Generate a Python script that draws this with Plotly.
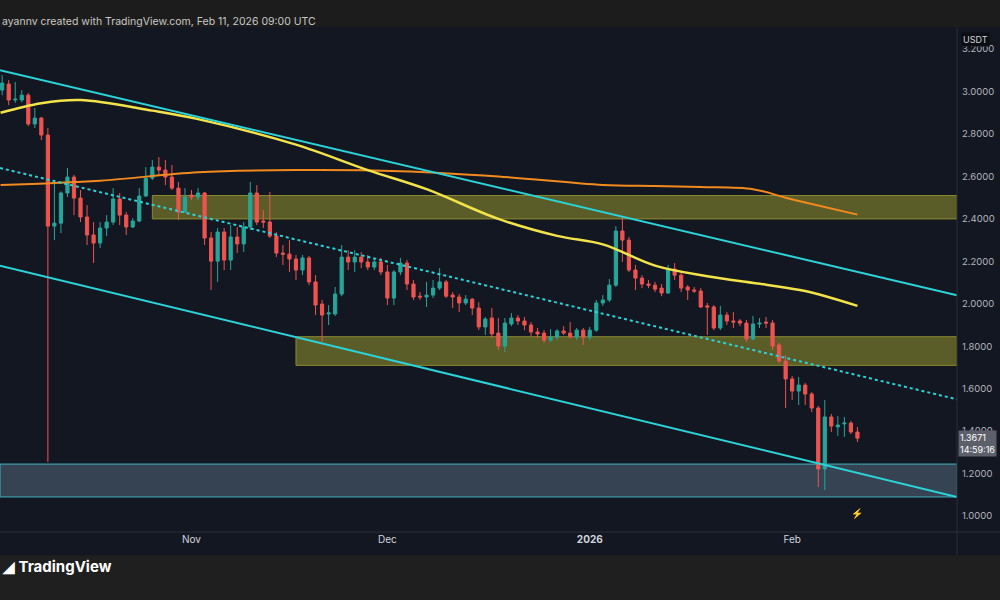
import plotly.graph_objects as go
import pandas as pd

start = pd.Timestamp("2025-10-03")
opens = [3.007,3.035,2.960,2.960,2.983,2.847,2.875,2.795,2.366,2.380,2.522,2.597,2.498,2.409,2.324,2.286,2.357,2.385,2.494,2.418,
 2.362,2.390,2.508,2.592,2.644,2.630,2.597,2.545,2.432,2.512,2.503,2.522,2.310,2.201,2.338,2.206,2.315,2.282,2.362,2.522,
 2.390,2.385,2.319,2.239,2.234,2.211,2.159,2.216,2.103,1.999,1.952,1.952,2.046,2.220,2.197,2.220,2.197,2.173,2.197,2.150,
 2.027,2.150,2.192,2.093,2.036,2.032,2.041,2.074,2.103,2.041,2.032,2.004,2.022,1.980,1.891,1.933,1.862,1.801,1.905,1.933,
 1.919,1.900,1.867,1.862,1.829,1.843,1.872,1.862,1.843,1.876,1.843,1.876,2.004,2.018,2.088,2.343,2.300,2.159,2.121,2.093,
 2.088,2.074,2.051,2.164,2.135,2.079,2.065,2.060,1.990,1.985,1.886,1.947,1.919,1.919,1.909,1.834,1.905,1.914,1.909,1.806,
 1.730,1.646,1.589,1.617,1.575,1.509,1.222,1.467,1.420,1.434,1.438,1.396]
highs = [3.078,3.054,3.045,3.007,2.993,2.922,2.880,2.828,2.583,2.530,2.640,2.607,2.536,2.465,2.385,2.385,2.418,2.545,2.522,2.432,
 2.404,2.545,2.644,2.677,2.691,2.677,2.654,2.574,2.545,2.536,2.545,2.527,2.338,2.357,2.357,2.371,2.362,2.385,2.574,2.559,
 2.442,2.527,2.338,2.277,2.300,2.230,2.230,2.225,2.135,2.018,1.994,2.079,2.277,2.253,2.253,2.244,2.230,2.216,2.216,2.183,
 2.159,2.216,2.206,2.112,2.055,2.103,2.112,2.168,2.112,2.055,2.046,2.041,2.027,2.008,1.938,1.980,1.933,1.933,1.957,1.947,
 1.938,1.914,1.886,1.876,1.881,1.881,1.895,1.914,1.886,1.886,1.891,2.018,2.041,2.117,2.366,2.413,2.315,2.183,2.135,2.112,
 2.103,2.093,2.183,2.192,2.150,2.088,2.079,2.074,2.004,1.994,1.990,1.961,1.961,1.928,1.924,1.943,1.933,1.938,1.924,1.816,
 1.758,1.660,1.655,1.627,1.584,1.518,1.547,1.481,1.471,1.467,1.448,1.420]
lows = [2.983,2.936,2.946,2.950,2.837,2.828,2.771,1.255,2.300,2.333,2.503,2.418,2.385,2.277,2.192,2.263,2.319,2.371,2.371,2.324,
 2.357,2.385,2.503,2.583,2.607,2.559,2.536,2.395,2.428,2.489,2.489,2.277,2.065,2.103,2.159,2.159,2.239,2.244,2.347,2.371,
 2.357,2.310,2.220,2.183,2.150,2.112,2.135,2.088,1.947,1.820,1.900,1.943,2.036,2.159,2.150,2.168,2.159,2.159,2.135,1.994,
 1.994,2.135,2.065,2.018,2.018,1.985,2.027,2.065,2.027,1.980,1.961,1.994,1.947,1.876,1.853,1.839,1.782,1.773,1.895,1.900,
 1.876,1.848,1.839,1.815,1.820,1.829,1.853,1.839,1.829,1.806,1.829,1.867,1.990,2.008,2.079,2.197,2.150,2.065,2.074,2.074,
 2.055,2.036,2.046,2.112,2.055,2.018,2.051,1.980,1.853,1.876,1.876,1.900,1.886,1.895,1.820,1.829,1.886,1.886,1.782,1.721,
 1.509,1.547,1.523,1.523,1.490,1.137,1.123,1.396,1.377,1.373,1.387,1.349]
closes = [3.040,2.960,2.964,2.983,2.847,2.875,2.795,2.366,2.380,2.522,2.597,2.498,2.409,2.324,2.286,2.357,2.385,2.494,2.418,2.362,
 2.390,2.508,2.592,2.644,2.630,2.597,2.545,2.432,2.503,2.503,2.522,2.310,2.201,2.338,2.206,2.315,2.282,2.362,2.522,2.385,
 2.385,2.319,2.239,2.234,2.211,2.159,2.216,2.103,1.994,1.947,1.957,2.046,2.220,2.197,2.220,2.197,2.173,2.197,2.150,2.027,
 2.150,2.192,2.093,2.032,2.032,2.041,2.074,2.103,2.036,2.032,2.004,2.022,1.980,1.891,1.928,1.858,1.801,1.909,1.933,1.919,
 1.900,1.867,1.858,1.829,1.843,1.872,1.862,1.843,1.876,1.843,1.876,2.004,2.018,2.088,2.343,2.300,2.159,2.121,2.093,2.088,
 2.069,2.051,2.164,2.135,2.074,2.065,2.060,1.985,1.985,1.886,1.947,1.919,1.914,1.909,1.834,1.905,1.909,1.909,1.801,1.730,
 1.646,1.589,1.617,1.575,1.509,1.222,1.467,1.424,1.429,1.438,1.396,1.3671]
dates = pd.date_range(start, periods=len(opens), freq="D")

# moving averages (read at sample dates)
ma_yellow_dates = ["2025-10-02 18:00","2025-10-09","2025-10-15","2025-10-26","2025-11-02","2025-11-17","2025-11-28",
                   "2025-12-07","2025-12-18","2025-12-27","2026-01-03","2026-01-11","2026-01-19","2026-01-28","2026-02-03","2026-02-11"]
ma_yellow = [2.90,2.945,2.96,2.91,2.87,2.75,2.63,2.54,2.40,2.32,2.28,2.18,2.13,2.09,2.06,1.99]
ma_orange_dates = ["2025-10-02 18:00","2025-10-18","2025-11-02","2025-11-17","2025-12-03","2025-12-18","2026-01-03",
                   "2026-01-11","2026-01-18","2026-01-26","2026-01-31","2026-02-04","2026-02-11"]
ma_orange = [2.56,2.58,2.62,2.63,2.625,2.60,2.56,2.555,2.55,2.54,2.50,2.47,2.42]

ch_dates = ["2025-10-02 16:00","2026-02-26 06:00"]
ch_upper = [3.10,2.04]
ch_mid = [2.64,1.55]
ch_lower = [2.18,1.09]

zones = [  # start date, bottom, top, kind
    ("2025-10-26", 2.40, 2.51, "y"),
    ("2025-11-17", 1.71, 1.845, "y"),
    ("2025-10-02 16:00", 1.09, 1.245, "g"),
]
zone_end = "2026-02-26 06:00"

tick_dates = ["2025-11-01","2025-12-01","2026-01-01","2026-02-01"]
tick_text = ["Nov","Dec","<b>2026</b>","Feb"]
y_ticks = [1.0,1.2,1.4,1.6,1.8,2.0,2.2,2.4,2.6,2.8,3.0,3.2]

BG = "#131722"
fig = go.Figure()
for d0, lo, hi, k in zones:
    if k == "y":
        fig.add_shape(type="rect", x0=d0, x1=zone_end, y0=lo, y1=hi, xref="x", yref="y",
                      fillcolor="rgba(140,140,45,0.6)", line=dict(color="#8c8a30", width=1), layer="below")
    else:
        fig.add_shape(type="rect", x0=d0, x1=zone_end, y0=lo, y1=hi, xref="x", yref="y",
                      fillcolor="rgba(110,140,160,0.38)", line=dict(color="#3fb0c0", width=1), layer="below")

fig.add_trace(go.Scatter(x=ma_orange_dates, y=ma_orange, mode="lines", line=dict(color="#f28a1e", width=2, shape="spline"), hoverinfo="skip"))
fig.add_trace(go.Scatter(x=ma_yellow_dates, y=ma_yellow, mode="lines", line=dict(color="#f3e34b", width=2.5, shape="spline"), hoverinfo="skip"))
fig.add_trace(go.Scatter(x=ch_dates, y=ch_upper, mode="lines", line=dict(color="#2cd3d8", width=2), hoverinfo="skip"))
fig.add_trace(go.Scatter(x=ch_dates, y=ch_lower, mode="lines", line=dict(color="#2cd3d8", width=2), hoverinfo="skip"))
fig.add_trace(go.Scatter(x=ch_dates, y=ch_mid, mode="lines", line=dict(color="#2cd3d8", width=2, dash="dot"), hoverinfo="skip"))
fig.add_trace(go.Candlestick(x=dates, open=opens, high=highs, low=lows, close=closes, whiskerwidth=0,
    increasing=dict(line=dict(color="#26a69a", width=1), fillcolor="#26a69a"),
    decreasing=dict(line=dict(color="#ef5350", width=1), fillcolor="#ef5350")))

fig.add_shape(type="rect", xref="paper", yref="paper", x0=0, x1=1.05, y0=1.0, y1=1.06, fillcolor="#1c1c1c", line_width=0)
fig.add_shape(type="rect", xref="paper", yref="paper", x0=0, x1=1.05, y0=-0.046, y1=-0.14, fillcolor="#1f1f1f", line_width=0)
fig.add_shape(type="line", xref="paper", yref="paper", x0=1.0, x1=1.0, y0=-0.046, y1=1.0, line=dict(color="#2a2e39", width=1))
fig.add_shape(type="line", xref="paper", yref="paper", x0=0, x1=1.05, y0=0, y1=0, line=dict(color="#2a2e39", width=1))

fig.add_annotation(xref="paper", yref="paper", x=0, y=1.027, text="ayannv created with TradingView.com, Feb 11, 2026 09:00 UTC",
                   showarrow=False, xanchor="left", font=dict(color="#c8c8c8", size=10.5, family="Inter"))
fig.add_annotation(xref="paper", yref="paper", x=0.0, y=-0.091, text="<b>◢ TradingView</b>", showarrow=False, xanchor="left",
                   font=dict(color="#ffffff", size=15, family="Inter"))
fig.add_annotation(xref="paper", yref="paper", x=1.004, y=0.99, text="USDT", showarrow=False, xanchor="left", yanchor="top",
                   bgcolor="#0c0e14", font=dict(color="#d1d4dc", size=9, family="Inter"))
fig.add_annotation(xref="paper", yref="y", x=1.001, y=closes[-1], text="1.3671<br>14:59:16", showarrow=False, xanchor="left",
                   yanchor="top", yshift=8, align="left", bgcolor="#5d606b", font=dict(color="#ffffff", size=9, family="Inter"), borderpad=1)
fig.add_annotation(x="2026-02-11", y=1.01, text="⚡", showarrow=False, font=dict(color="#d04ad8", size=10))

fig.update_layout(width=1000, height=600, margin=dict(l=0, r=43, t=27, b=68), paper_bgcolor=BG, plot_bgcolor=BG,
    showlegend=False, font=dict(family="Inter", color="#b2b5be"),
    xaxis=dict(range=["2025-10-02 16:00", "2026-02-26 06:00"], rangeslider=dict(visible=False), showgrid=False,
               tickvals=tick_dates, ticktext=tick_text, tickfont=dict(size=10, color="#d1d4dc"), zeroline=False, ticks=""),
    yaxis=dict(side="right", range=[0.925, 3.304], tickvals=y_ticks, tickformat=".4f", showgrid=False, zeroline=False,
               tickfont=dict(size=9.5, color="#b2b5be"), ticks="", ticklabelstandoff=4))
fig.write_html("out.html", config={"displayModeBar": False},
               post_script="document.body.style.margin='0';document.body.style.background='#131722';")
